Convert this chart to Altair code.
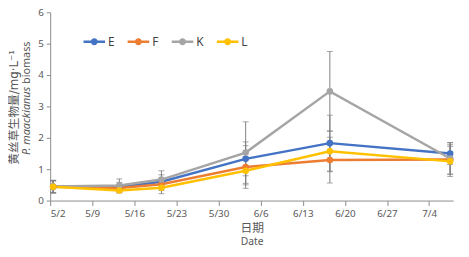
import altair as alt
import pandas as pd

dates = ["2021-05-02T12:00:00Z", "2021-05-13T12:00:00Z", "2021-05-20T12:00:00Z",
         "2021-06-03T12:00:00Z", "2021-06-17T12:00:00Z", "2021-07-07T12:00:00Z"]
series_names = ["E", "F", "K", "L"]
E_vals = [0.44, 0.43, 0.60, 1.33, 1.83, 1.50]
F_vals = [0.44, 0.40, 0.52, 1.07, 1.29, 1.31]
K_vals = [0.45, 0.48, 0.67, 1.53, 3.48, 1.34]
L_vals = [0.44, 0.32, 0.41, 0.95, 1.57, 1.25]
E_err = [0.20, 0.15, 0.22, 0.54, 0.89, 0.35]
F_err = [0.18, 0.12, 0.20, 0.68, 0.73, 0.47]
K_err = [0.20, 0.21, 0.28, 0.98, 1.27, 0.50]
L_err = [0.20, 0.08, 0.19, 0.45, 0.65, 0.48]
colors = ["#4472C4", "#ED7D31", "#A5A5A5", "#FFC000"]
tick_dates = [(5, 2), (5, 9), (5, 16), (5, 23), (5, 30), (6, 6), (6, 13), (6, 20), (6, 27), (7, 4)]

rows = []
for name, vals, errs in zip(series_names, [E_vals, F_vals, K_vals, L_vals],
                            [E_err, F_err, K_err, L_err]):
    for d, v, e in zip(dates, vals, errs):
        rows.append({"date": d, "series": name, "value": v, "err": e,
                     "order": series_names.index(name)})
df = pd.DataFrame(rows)

xscale = alt.Scale(type="utc",
                   domain=[alt.DateTime(year=2021, month=5, date=2, utc=True),
                           alt.DateTime(year=2021, month=7, date=8, utc=True)])
xaxis = alt.Axis(values=[alt.DateTime(year=2021, month=m, date=d, utc=True) for m, d in tick_dates],
                 format="%-m/%-d", title=None, grid=False, labelFont="Noto Sans",
                 labelFontSize=10, labelColor="#595959", domainColor="#8c8c8c",
                 tickColor="#8c8c8c", tickSize=5, labelPadding=3)
yscale = alt.Scale(domain=[0, 6], nice=False)
yaxis = alt.Axis(values=[0, 1, 2, 3, 4, 5, 6], title=None, grid=False, labelFont="Noto Sans",
                 labelFontSize=10, labelColor="#595959", domainColor="#8c8c8c",
                 tickColor="#8c8c8c", tickSize=4, labelPadding=3)

cscale = alt.Scale(domain=series_names, range=colors)
sym = ("M-1,-0.11L1,-0.11L1,0.11L-1,0.11Z"
       "M-0.32,0A0.32,0.32,0,1,1,0.32,0A0.32,0.32,0,1,1,-0.32,0Z")
legend = alt.Legend(orient="none", legendX=34, legendY=19, direction="horizontal",
                    title=None, symbolType=sym, symbolSize=484, symbolStrokeWidth=0,
                    symbolOpacity=1, labelFont="Noto Sans", labelFontSize=12,
                    labelColor="#404040", labelOffset=3, columnPadding=13, padding=0)

base = alt.Chart(df)
errbars = base.mark_errorbar(ticks=alt.MarkConfig(size=6), color="#7f7f7f", thickness=1).encode(
    x=alt.X("date:T", scale=xscale, axis=xaxis),
    y=alt.Y("value:Q", scale=yscale, axis=yaxis),
    yError="err:Q",
    detail="series:N",
)
lines = base.mark_line(strokeWidth=2.5).encode(
    x=alt.X("date:T", scale=xscale, axis=xaxis),
    y=alt.Y("value:Q", scale=yscale, axis=yaxis),
    color=alt.Color("series:N", scale=cscale, legend=legend),
    order="order:Q",
)
points = base.mark_circle(size=45, opacity=1).encode(
    x=alt.X("date:T", scale=xscale, axis=xaxis),
    y=alt.Y("value:Q", scale=yscale, axis=yaxis),
    color=alt.Color("series:N", scale=cscale, legend=legend),
    order="order:Q",
)

def label(text, x, y, size, angle=0, style="normal", align="center", font="'DejaVu Sans', 'Noto Sans CJK SC'"):
    return alt.Chart(pd.DataFrame({"t": [text]})).mark_text(
        font=font, fontSize=size, color="#595959", angle=angle, fontStyle=style,
        align=align, baseline="middle").encode(
        text="t:N", x=alt.value(x), y=alt.value(y))

xt1 = label("日期", 206, 220, 12, font="Noto Sans CJK SC")
xt2 = label("Date", 206, 234, 10.5, font="Noto Sans")
yt1 = label("黄丝草生物量/mg·L⁻¹", -37, 97, 12, angle=270)
yt2a = label("P. maackianus", -24, 76, 11, angle=270, style="italic", align="right", font="Noto Sans")
yt2b = label("biomass", -24, 73, 11, angle=270, align="left", font="Noto Sans")

chart = alt.layer(errbars, lines, points, xt1, xt2, yt1, yt2a, yt2b).properties(
    width=411, height=192,
    autosize=alt.AutoSizeParams(type="none"),
    padding={"left": 43, "top": 2, "right": 8, "bottom": 47},
).configure_view(stroke=None)

chart.save("out.html", embed_options={"renderer": "svg", "actions": False})
